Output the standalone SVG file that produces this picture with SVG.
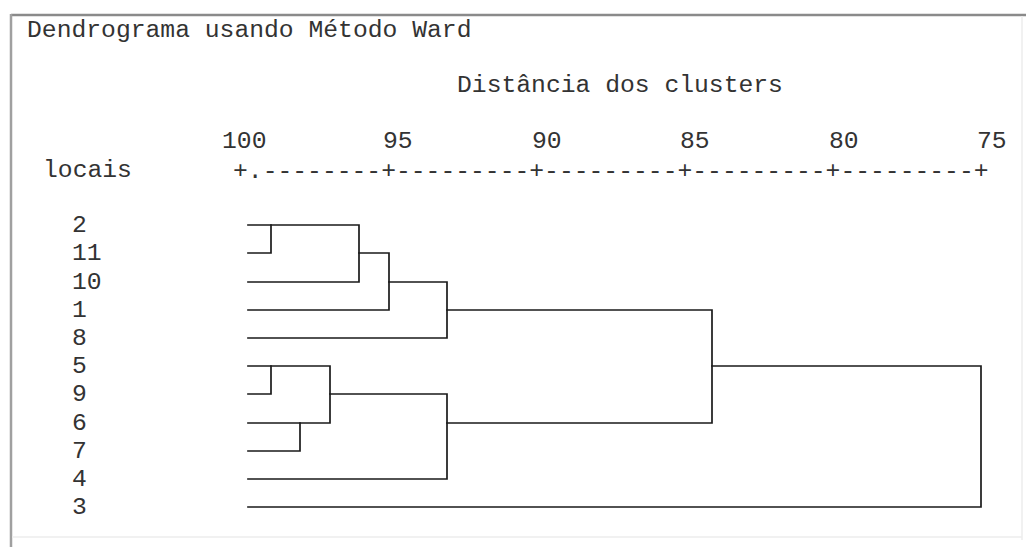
<svg xmlns="http://www.w3.org/2000/svg" width="1030" height="547" viewBox="0 0 1030 547">
<style>
text{font-family:"Liberation Mono","Courier New",monospace;font-size:24.7px;fill:#333}
.ln{fill:none;stroke:#1a1a1a;stroke-width:1.7;stroke-linejoin:miter;stroke-linecap:square}
</style>
<rect width="1030" height="547" fill="#fff"/>
<g id="frame">
<line x1="11" y1="15" x2="1026" y2="15" stroke="#8a8a8a" stroke-width="2.5"/>
<line x1="11" y1="14" x2="11" y2="547" stroke="#a0a0a0" stroke-width="2.5"/>
<line x1="1022" y1="16" x2="1022" y2="540" stroke="#ececec" stroke-width="1.5"/>
<line x1="12" y1="537" x2="1022" y2="537" stroke="#ececec" stroke-width="1.5"/>
</g>
<g id="titles">
<text x="27" y="37">Dendrograma usando Método Ward</text>
<text x="457" y="92">Distância dos clusters</text>
<text x="43" y="177">locais</text>
</g>
<g id="axis">
<text x="222" y="148">100</text>
<text x="383" y="148">95</text>
<text x="532" y="148">90</text>
<text x="680" y="148">85</text>
<text x="829" y="148">80</text>
<text x="977" y="148">75</text>
<text x="233" y="178">+.--------+---------+---------+---------+---------+</text>
</g>
<g id="leaf-2"><text x="72" y="232">2</text></g>
<g id="leaf-11"><text x="72" y="260">11</text></g>
<g id="leaf-10"><text x="72" y="289">10</text></g>
<g id="leaf-1"><text x="72" y="317">1</text></g>
<g id="leaf-8"><text x="72" y="345">8</text></g>
<g id="leaf-5"><text x="72" y="373">5</text></g>
<g id="leaf-9"><text x="72" y="401">9</text></g>
<g id="leaf-6"><text x="72" y="430">6</text></g>
<g id="leaf-7"><text x="72" y="458">7</text></g>
<g id="leaf-4"><text x="72" y="486">4</text></g>
<g id="leaf-3"><text x="72" y="514">3</text></g>
<g id="connectors" class="ln">
<polyline points="248,225 359,225 359,282 248,282"/>
<polyline points="248,253 271,253 271,225"/>
<polyline points="359,253 389,253 389,310 248,310"/>
<polyline points="389,282 447,282 447,338 248,338"/>
<polyline points="447,310 712,310 712,423 447,423"/>
<polyline points="248,366 330,366 330,423 248,423"/>
<polyline points="248,394 271,394 271,366"/>
<polyline points="248,451 300,451 300,423"/>
<polyline points="330,394 447,394 447,479 248,479"/>
<polyline points="712,366 981,366 981,507 248,507"/>
</g>
</svg>
